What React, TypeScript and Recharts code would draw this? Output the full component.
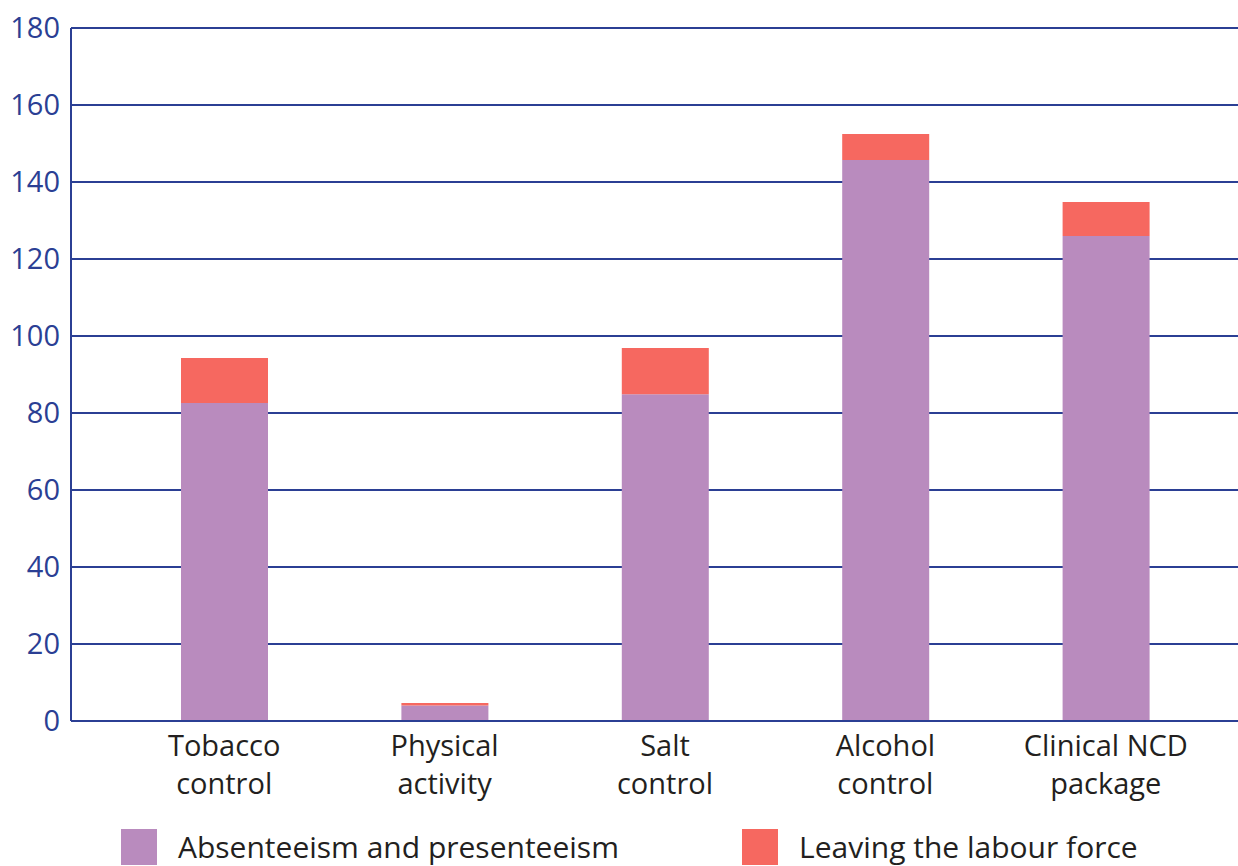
import React from "react";
import { BarChart, Bar, XAxis, YAxis, CartesianGrid, Legend } from "recharts";

const categories = ["Tobacco control", "Physical activity", "Salt control", "Alcohol control", "Clinical NCD package"];
const categoryLines = [
  ["Tobacco", "control"],
  ["Physical", "activity"],
  ["Salt", "control"],
  ["Alcohol", "control"],
  ["Clinical NCD", "package"],
];
const absenteeism = [82.6, 4.0, 84.9, 145.7, 126.0];
const leaving = [11.7, 0.7, 12.0, 6.8, 8.8];
const yTicks = [0, 20, 40, 60, 80, 100, 120, 140, 160, 180];
const seriesNames = ["Absenteeism and presenteeism", "Leaving the labour force"];

const data = categories.map((c, i) => ({
  name: c,
  absenteeism: absenteeism[i],
  leaving: leaving[i],
}));

const BLUE = "#2b3f94";
const PURPLE = "#b98bbe";
const RED = "#f66860";
const FONT = "'Open Sans', Lato, sans-serif";

const CategoryTick = (props: any) => {
  const { x, y, payload } = props;
  const idx = categories.indexOf(payload.value);
  const lines = idx >= 0 ? categoryLines[idx] : [String(payload.value)];
  return (
    <text x={x} y={y} textAnchor="middle" fill="#231f20" fontSize={29} fontFamily={FONT}>
      {lines.map((l, i) => (
        <tspan key={i} x={x} y={y + 27 + i * 38}>
          {l}
        </tspan>
      ))}
    </text>
  );
};

const LegendContent = () => {
  const colors = [PURPLE, RED];
  return (
    <div style={{ position: "relative", height: 37, width: 1238, fontFamily: FONT }}>
      {seriesNames.map((n, i) => (
        <div
          key={n}
          style={{
            position: "absolute",
            left: i === 0 ? 121 : 742,
            top: 0,
            display: "flex",
            alignItems: "center",
            height: 36,
          }}
        >
          <div style={{ width: 36, height: 36, background: colors[i] }} />
          <span style={{ marginLeft: 21, fontSize: 30, color: "#231f20", whiteSpace: "nowrap", lineHeight: "36px" }}>
            {n}
          </span>
        </div>
      ))}
    </div>
  );
};

export default function App() {
  return (
    <div style={{ position: "absolute", left: 0, top: 0, width: 1238, height: 866, background: "#fff" }}>
      <BarChart
        width={1238}
        height={866}
        data={data}
        margin={{ top: 28, right: 0, bottom: 8, left: 0 }}
        barSize={87}
      >
        <CartesianGrid horizontal={true} vertical={false} stroke={BLUE} strokeWidth={2} />
        <XAxis
          dataKey="name"
          height={100}
          padding={{ left: 43, right: 22 }}
          axisLine={{ stroke: BLUE, strokeWidth: 2 }}
          tickLine={false}
          tick={<CategoryTick />}
          interval={0}
        />
        <YAxis
          width={71}
          domain={[0, 180]}
          ticks={yTicks}
          axisLine={{ stroke: BLUE, strokeWidth: 2 }}
          tickLine={false}
          tickMargin={5}
          tick={{ fill: BLUE, fontSize: 29, fontFamily: FONT }}
          interval={0}
        />
        <Legend
          verticalAlign="bottom"
          content={<LegendContent />}
          wrapperStyle={{ top: 829, left: 0, bottom: "auto", width: 1238 }}
        />
        <Bar dataKey="absenteeism" name={seriesNames[0]} stackId="a" fill={PURPLE} isAnimationActive={false} />
        <Bar dataKey="leaving" name={seriesNames[1]} stackId="a" fill={RED} isAnimationActive={false} />
      </BarChart>
    </div>
  );
}
